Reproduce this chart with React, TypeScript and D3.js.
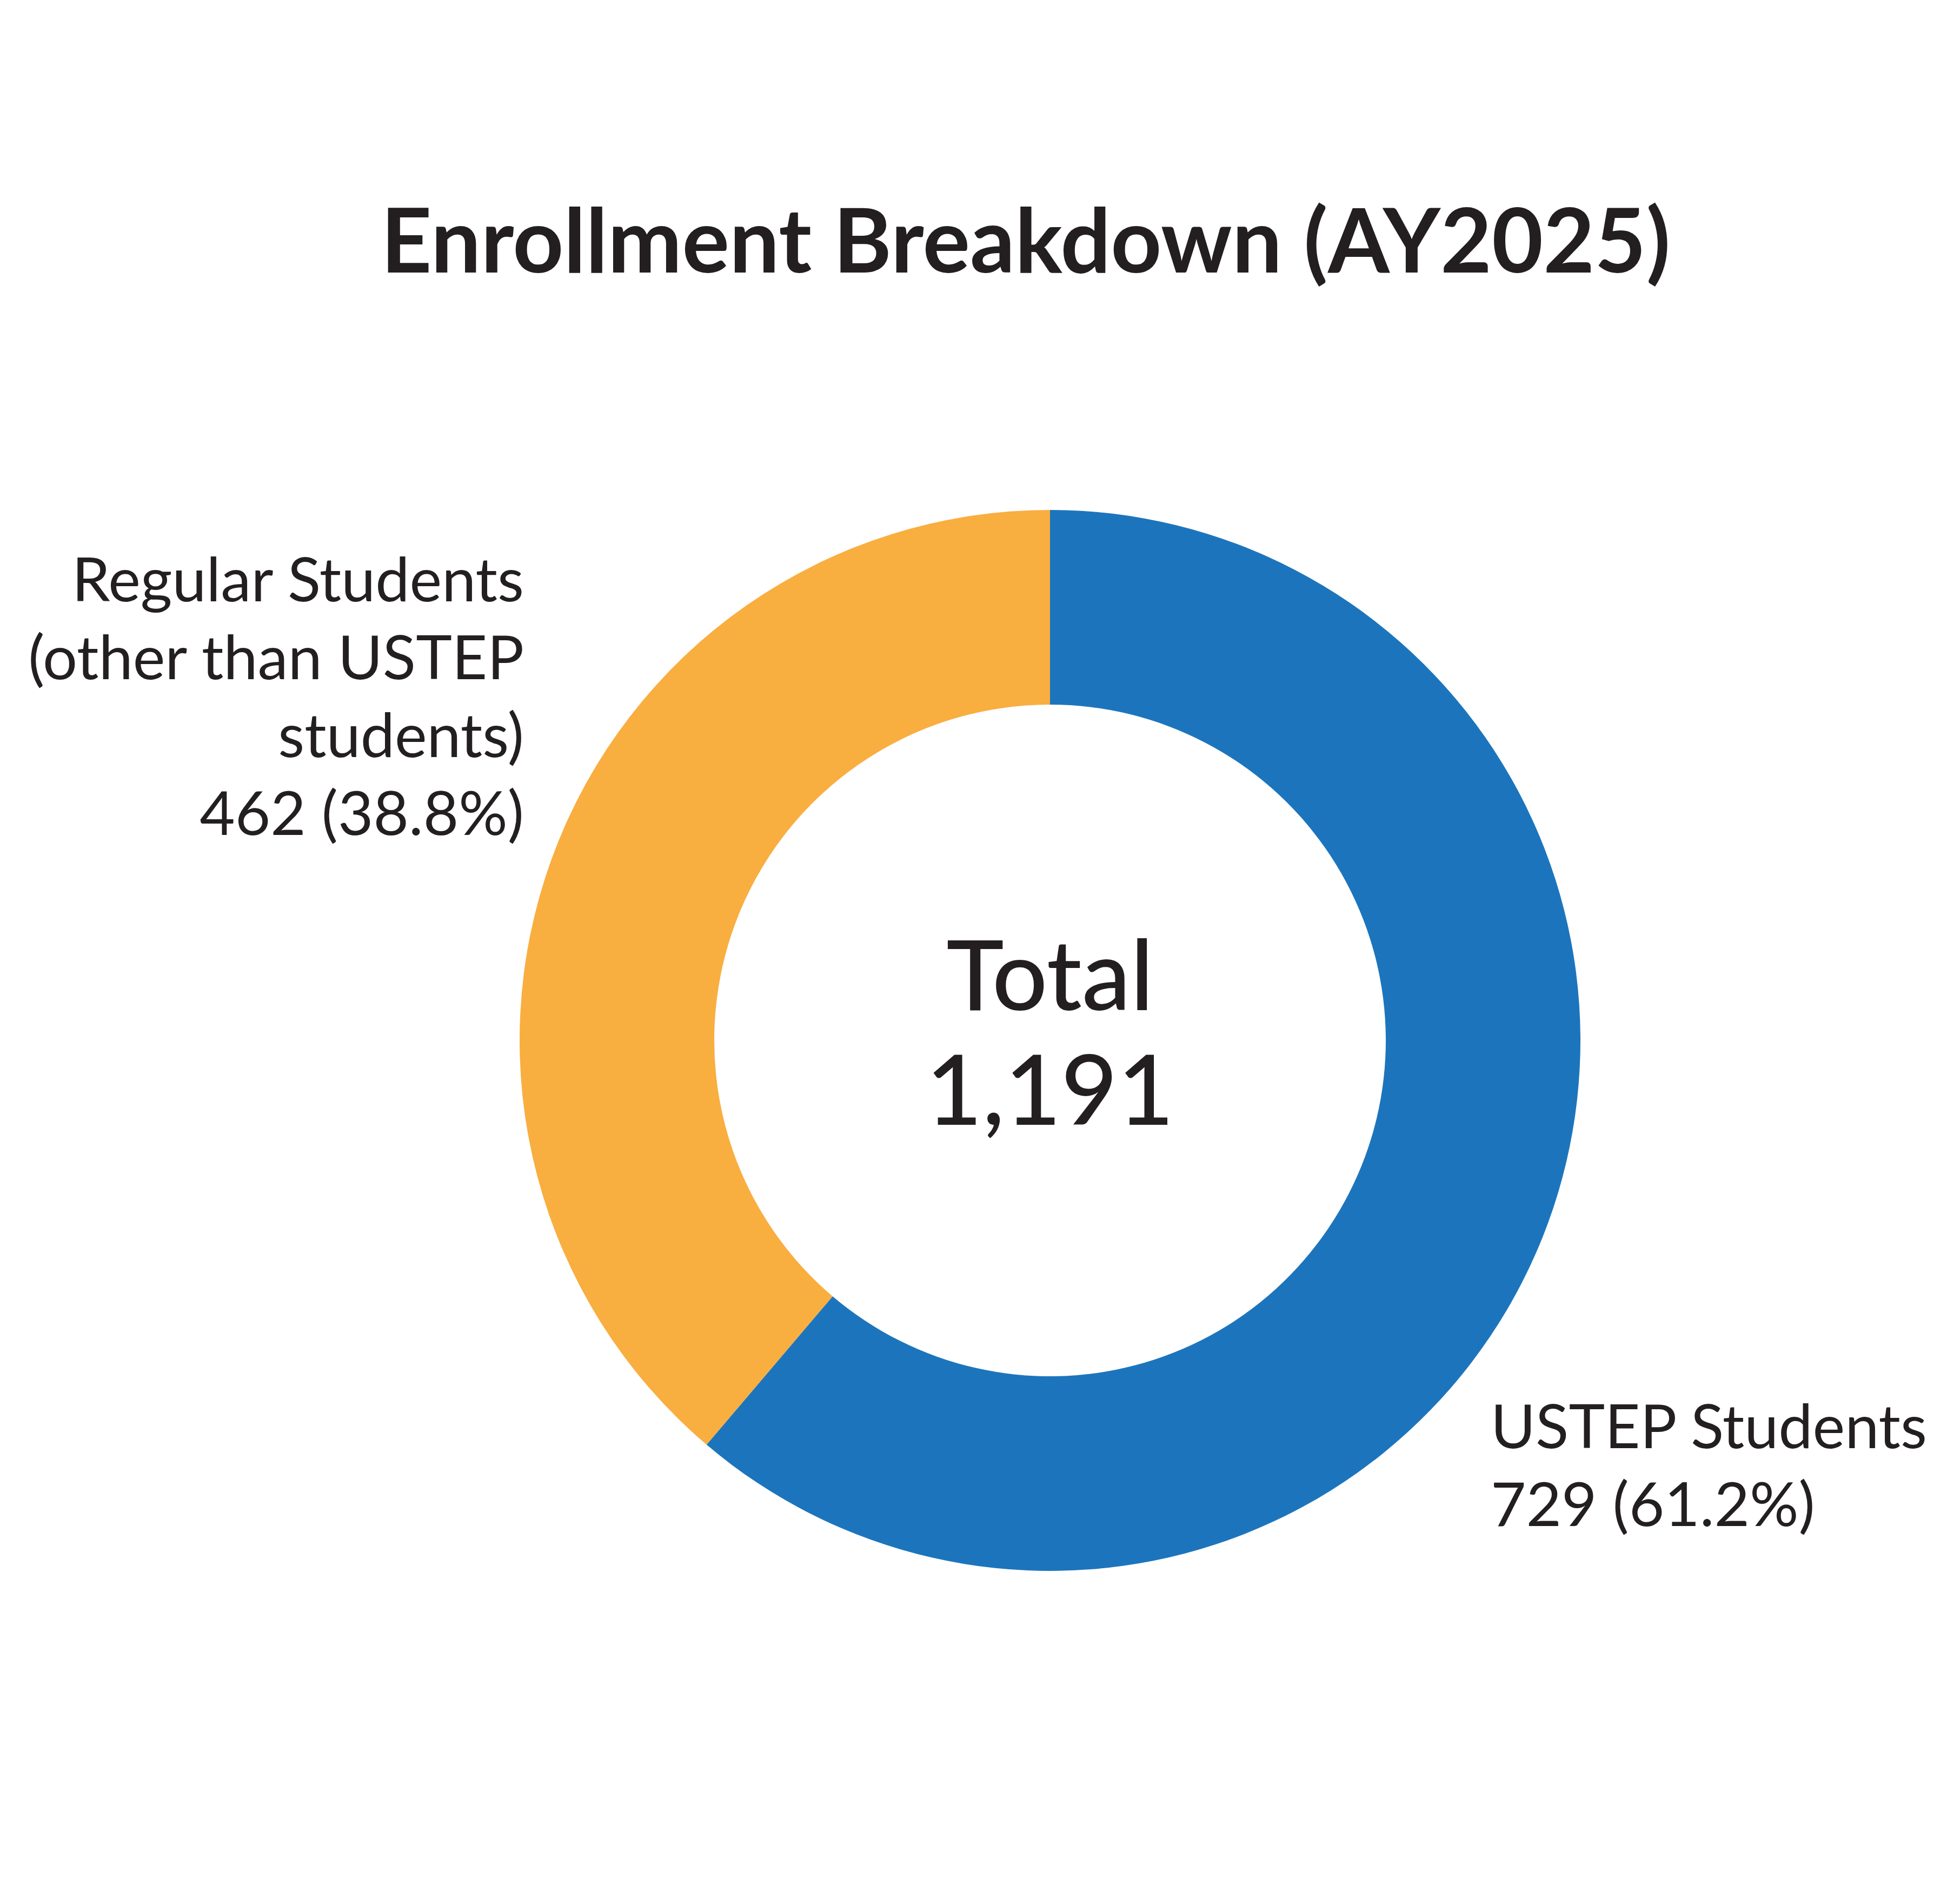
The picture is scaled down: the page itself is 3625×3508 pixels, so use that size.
import React from 'react';
import * as d3 from 'd3';

// Enrollment counts, clockwise from 12 o'clock
const categories = ['USTEP Students', 'Regular Students'];
const labelLines = [['USTEP Students'], ['Regular Students', '(other than USTEP', 'students)']];
const enrollment = [729, 462];
const sliceColors = ['#1C75BC', '#F9AE40'];

const title = 'Enrollment Breakdown (AY2025)';

const WIDTH = 3625;
const HEIGHT = 3508;
const FONT = 'Lato, "Noto Sans", sans-serif';
const TEXT = '#231F20';

const cx = 1942;
const cy = 1924;
const outerR = 981;
const innerR = 621;

// label blocks: anchor x, first baseline, text-anchor
const labelLayout = [
  { x: 2757, y: 2678, anchor: 'start' },
  { x: 969, y: 1112, anchor: 'end' },
];
const lineGap = 144;

export default function App() {
  const total = d3.sum(enrollment);
  const pie = d3.pie<number>().sort(null).startAngle(0).endAngle(2 * Math.PI);
  const arcs = pie(enrollment);
  const arc = d3.arc<d3.PieArcDatum<number>>().innerRadius(innerR).outerRadius(outerR);
  const pct = d3.format('.1%');
  const num = d3.format(',');

  return (
    <svg
      width={WIDTH}
      height={HEIGHT}
      style={{ position: 'absolute', top: 0, left: 0, background: '#fff' }}
      fontFamily={FONT}
    >
      <rect width={WIDTH} height={HEIGHT} fill="#fff" />
      <text x={1897} y={504} textAnchor="middle" fontSize={164} fontWeight={700} fill={TEXT}>
        {title}
      </text>

      <g transform={`translate(${cx},${cy})`}>
        {arcs.map((a, i) => (
          <path key={categories[i]} d={arc(a) || ''} fill={sliceColors[i]} />
        ))}
        <text x={0} y={-56} textAnchor="middle" fontSize={180} fontWeight={500} fill={TEXT}>
          Total
        </text>
        <text x={0} y={156} textAnchor="middle" fontSize={180} fontWeight={500} fill={TEXT}>
          {num(total)}
        </text>
      </g>

      {categories.map((c, i) => {
        const L = labelLayout[i];
        const lines = [...labelLines[i], `${num(enrollment[i])} (${pct(enrollment[i] / total)})`];
        return (
          <text key={c} textAnchor={L.anchor as any} fontSize={113} fill={TEXT}>
            {lines.map((ln, j) => (
              <tspan key={j} x={L.x} y={L.y + j * lineGap}>
                {ln}
              </tspan>
            ))}
          </text>
        );
      })}
    </svg>
  );
}
